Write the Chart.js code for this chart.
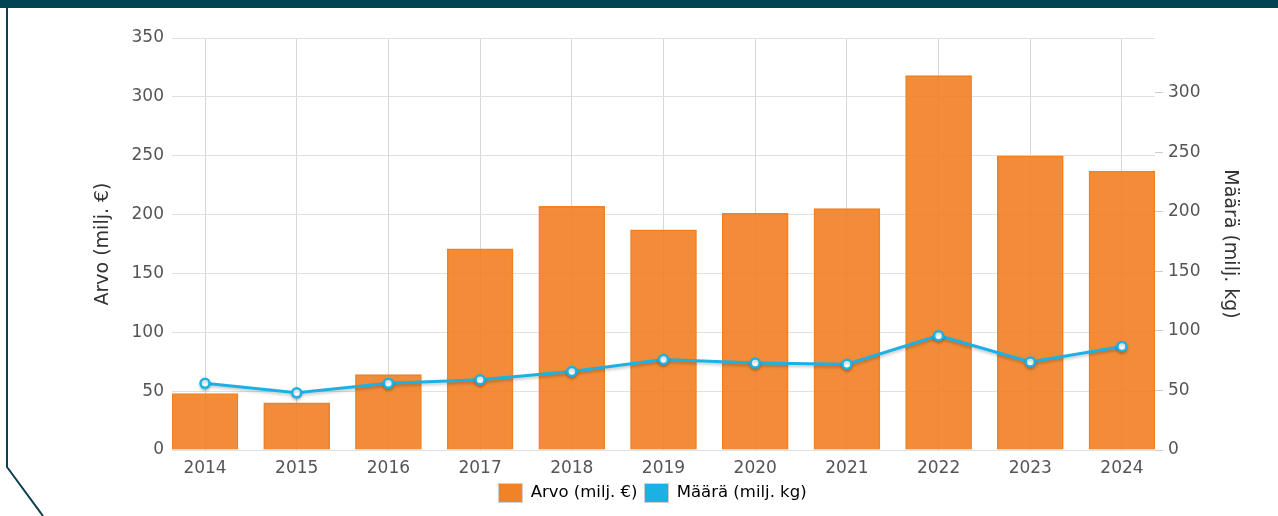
<!doctype html>
<html lang="fi">
<head>
  <meta charset="utf-8">
  <title>Arvo ja määrä 2014–2024</title>
  <style>
    * {
      margin: 0;
      padding: 0;
    }

    body {
      background: #fff;
      width: 1278px;
      height: 516px;
      overflow: hidden;
    }

    .chartBox {
      position: absolute;
      left: 0;
      top: 0;
      width: 1278px;
      height: 516px;
    }

    .frame {
      position: absolute;
      left: 0;
      top: 0;
      pointer-events: none;
    }
  </style>
</head>

<body>
  <div class="chartBox">
    <canvas id="myChart"></canvas>
  </div>
  <svg class="frame" width="1278" height="516">
    <rect x="0" y="0" width="1278" height="8" fill="#014352"></rect>
    <polyline points="7,8 7,467 43,516" fill="none" stroke="#0b3f4d" stroke-width="2"></polyline>
  </svg>

  <script src="https://cdn.jsdelivr.net/npm/chart.js"></script>
  <script>
    // data
    const years = [2014, 2015, 2016, 2017, 2018, 2019, 2020, 2021, 2022, 2023, 2024];
    const arvo = [48, 40, 64, 171, 207, 187, 201, 205, 318, 250, 237];   // milj. €
    const maara = [56, 48, 56, 59, 66, 76, 73, 72, 96, 74, 87];          // milj. kg
    const arvoTicks = [0, 50, 100, 150, 200, 250, 300, 350];
    const maaraTicks = [0, 50, 100, 150, 200, 250, 300];

    const ORANGE = '#F28226';
    const BLUE = '#1BB1E5';
    const FONT = 'DejaVu Sans';

    // soft shadow under the line
    const lineShadow = {
      id: 'lineShadow',
      beforeDatasetDraw(chart, args) {
        if (args.index !== 1) return;
        const ctx = chart.ctx;
        ctx.save();
        ctx.shadowColor = 'rgba(0, 0, 0, 0.22)';
        ctx.shadowBlur = 3;
        ctx.shadowOffsetY = 2;
      },
      afterDatasetDraw(chart, args) {
        if (args.index === 1) chart.ctx.restore();
      }
    };

    const data = {
      datasets: [{
          type: 'bar',
          label: 'Arvo (milj. €)',
          data: years.map((y, i) => ({ x: y, y: arvo[i] })),
          yAxisID: 'y',
          backgroundColor: 'rgba(242, 128, 34, 0.9)',
          borderColor: ORANGE,
          borderWidth: 1,
          barThickness: 66,
          order: 2
        },
        {
          type: 'line',
          label: 'Määrä (milj. kg)',
          data: years.map((y, i) => ({ x: y, y: maara[i] })),
          yAxisID: 'y1',
          borderColor: BLUE,
          borderWidth: 3,
          pointBackgroundColor: '#fff',
          pointBorderColor: BLUE,
          pointBorderWidth: 2.5,
          pointRadius: 4.5,
          tension: 0,
          order: 1
        }
      ]
    };

    const config = {
      data,
      plugins: [lineShadow],
      options: {
        responsive: true,
        maintainAspectRatio: false,
        animation: false,
        layout: {
          padding: { left: 60, right: 33, top: 38, bottom: 3.5 }
        },
        plugins: {
          tooltip: { enabled: false },
          legend: {
            position: 'bottom',
            labels: {
              boxWidth: 24,
              boxHeight: 19,
              padding: 7,
              color: '#555',
              font: { family: FONT, size: 16.5 },
              generateLabels: (chart) => chart.data.datasets.map((ds, i) => ({
                text: ds.label,
                fillStyle: i === 0 ? ORANGE : BLUE,
                strokeStyle: '#d0d0d0',
                lineWidth: 1,
                datasetIndex: i
              }))
            }
          }
        },
        scales: {
          x: {
            type: 'linear',
            offset: false,
            min: years[0] - 0.36,
            max: years[years.length - 1] + 0.36,
            afterBuildTicks: (s) => { s.ticks = years.map(v => ({ value: v })); },
            afterFit: (s) => { s.height = 26.5; },
            border: { display: false },
            grid: { color: '#d6d6d6', drawTicks: false, offset: false },
            ticks: {
              padding: 8,
              color: '#555',
              font: { family: FONT, size: 17 },
              callback: (v) => String(v)
            }
          },
          y: {
            position: 'left',
            min: 0,
            max: 350,
            afterBuildTicks: (s) => { s.ticks = arvoTicks.map(v => ({ value: v })); },
            afterFit: (s) => { s.width = 112; },
            border: { display: false },
            grid: { color: '#e1e1e1', drawTicks: false },
            ticks: {
              padding: 8,
              color: '#555',
              font: { family: FONT, size: 17 }
            },
            title: {
              display: true,
              text: 'Arvo (milj. €)',
              color: '#333',
              font: { family: FONT, size: 19 },
              padding: { top: 32, bottom: 4 }
            }
          },
          y1: {
            position: 'right',
            min: 0,
            max: 346,
            afterBuildTicks: (s) => { s.ticks = maaraTicks.map(v => ({ value: v })); },
            afterFit: (s) => { s.width = 90; },
            border: { display: false },
            grid: { drawOnChartArea: false, drawTicks: true, tickLength: 8, color: '#cccccc' },
            ticks: {
              padding: 5,
              color: '#555',
              font: { family: FONT, size: 17 }
            },
            title: {
              display: true,
              text: 'Määrä (milj. kg)',
              color: '#333',
              font: { family: FONT, size: 19 },
              padding: { top: 4, bottom: 4 }
            }
          }
        }
      }
    };

    const myChart = new Chart(document.getElementById('myChart'), config);
  </script>
</body>

</html>
